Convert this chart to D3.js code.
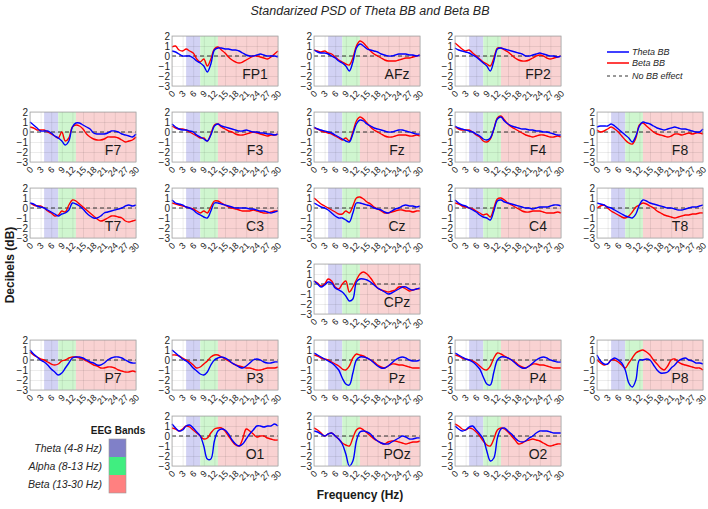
<!DOCTYPE html>
<html><head><meta charset="utf-8">
<script src="https://cdn.jsdelivr.net/npm/d3@7"></script>
<style>
body{margin:0;background:#fff}
svg{display:block}
text{font-family:"Liberation Sans",Arial,Helvetica,sans-serif}
</style>
</head><body>
<svg id="chart" width="708" height="509"></svg>
<script>
// ---------------- DATA ----------------
const freqs = d3.range(0, 31); // Hz, 0..30
const xTicks = [0,3,6,9,12,15,18,21,24,27,30];
const yTicks = [2,1,0,-1,-2,-3];
const bandNames = ["Theta (4-8 Hz)","Alpha (8-13 Hz)","Beta (13-30 Hz)"];
const bandFrom = [4, 8, 13];
const bandTo = [8, 13, 30];
const seriesNames = ["Theta BB","Beta BB","No BB effect"];

const FP1_theta=[0.5,0.4,0.2,0.0,0.0,0.0,-0.2,-0.5,-0.7,-1.0,-1.6,-0.8,0.6,0.8,0.8,0.7,0.7,0.6,0.6,0.5,0.3,0.1,0.0,0.0,0.1,0.2,0.1,0.0,0.0,0.0,-0.1];
const FP1_beta=[0.9,1.0,0.6,0.5,0.7,0.5,0.3,-0.3,-0.6,-0.3,-1.0,-0.3,0.7,0.9,0.6,0.3,-0.1,-0.4,-0.6,-0.7,-0.6,-0.4,-0.2,0.0,0.0,-0.1,-0.2,-0.3,-0.1,0.2,0.5];
const AFz_theta=[0.6,0.4,0.3,0.3,0.2,0.0,-0.2,-0.5,-0.7,-1.0,-1.5,-0.6,0.8,1.2,1.0,0.7,0.6,0.5,0.4,0.2,0.1,0.0,0.0,0.1,0.2,0.2,0.2,0.1,0.1,0.0,0.1];
const AFz_beta=[0.6,0.5,0.4,0.5,0.3,0.2,-0.1,-0.4,-0.6,-0.8,-0.9,-0.2,1.0,1.5,1.3,0.9,0.5,0.2,0.0,-0.2,-0.4,-0.5,-0.5,-0.5,-0.4,-0.3,-0.2,-0.2,-0.1,0.0,0.1];
const FP2_theta=[0.8,0.6,0.5,0.4,0.3,0.1,-0.1,-0.4,-0.7,-1.0,-1.5,-0.5,0.7,0.8,0.7,0.6,0.5,0.4,0.3,0.2,0.0,0.0,0.1,0.2,0.3,0.2,0.1,0.0,0.0,-0.1,0.0];
const FP2_beta=[1.3,1.0,0.7,0.5,0.6,0.3,0.0,-0.3,-0.6,-0.8,-1.0,-0.2,0.8,0.8,0.6,0.4,0.1,-0.2,-0.4,-0.5,-0.5,-0.4,-0.2,0.0,0.1,0.0,-0.2,-0.3,-0.2,-0.1,0.0];
const F7_theta=[1.0,0.7,0.4,0.1,0.1,0.1,-0.1,-0.4,-0.6,-0.9,-1.3,-0.9,0.5,0.9,0.9,0.7,0.5,0.3,-0.1,-0.2,-0.2,-0.2,-0.1,0.1,0.1,0.0,-0.2,-0.3,-0.4,-0.5,-0.2];
const F7_beta=[0.5,0.4,0.2,0.2,0.2,0.0,-0.2,-0.4,-0.6,0.0,-0.9,-0.6,0.5,0.7,0.6,0.3,-0.2,-0.5,-0.7,-0.8,-0.8,-0.7,-0.5,-0.5,-0.5,-0.6,-0.8,-1.0,-0.9,-0.8,-0.5];
const F3_theta=[0.8,0.5,0.3,0.2,0.2,0.1,0.0,-0.3,-0.5,-0.7,-0.9,-0.3,0.6,0.8,0.6,0.5,0.4,0.3,0.2,0.1,0.1,0.2,0.1,0.0,0.0,-0.1,-0.1,-0.2,-0.2,-0.3,-0.2];
const F3_beta=[0.6,0.4,0.3,0.3,0.2,0.0,-0.2,-0.4,-0.6,-0.6,-0.9,-0.2,0.7,0.8,0.5,0.3,0.1,0.0,-0.2,-0.3,-0.3,-0.2,-0.1,0.0,-0.1,-0.2,-0.3,-0.4,-0.3,-0.3,-0.2];
const Fz_theta=[0.5,0.3,0.2,0.1,0.0,-0.1,-0.3,-0.5,-0.7,-0.9,-1.0,-0.2,0.8,1.2,1.1,0.8,0.6,0.4,0.3,0.2,0.1,0.0,0.0,0.1,0.2,0.2,0.1,0.0,-0.1,-0.2,-0.2];
const Fz_beta=[0.4,0.3,0.1,0.0,-0.1,-0.2,-0.4,-0.6,-0.8,-0.6,-0.9,0.0,1.1,1.5,1.3,0.9,0.5,0.2,0.0,-0.2,-0.4,-0.5,-0.5,-0.4,-0.3,-0.3,-0.3,-0.4,-0.4,-0.3,-0.4];
const F4_theta=[0.6,0.4,0.3,0.2,0.1,0.0,-0.2,-0.4,-0.7,-0.8,-0.6,0.3,1.3,1.5,1.1,0.8,0.6,0.5,0.4,0.3,0.3,0.2,0.2,0.1,0.1,0.0,0.0,-0.1,-0.2,-0.3,-0.3];
const F4_beta=[0.5,0.3,0.2,0.2,0.2,0.0,-0.3,-0.5,-0.9,-1.0,-0.7,0.3,1.4,1.6,1.2,0.8,0.5,0.3,0.1,-0.1,-0.3,-0.4,-0.5,-0.4,-0.3,-0.3,-0.4,-0.5,-0.5,-0.4,-0.5];
const F8_theta=[0.5,0.6,0.6,0.6,0.8,0.6,0.3,0.0,-0.3,-0.6,-1.0,-0.4,0.6,1.0,0.9,0.8,0.6,0.4,0.3,0.2,0.3,0.4,0.5,0.4,0.3,0.3,0.2,0.1,0.0,0.0,0.3];
const F8_beta=[0.2,0.0,0.1,0.3,0.5,0.3,0.0,-0.4,-0.8,-1.1,-1.2,-0.6,0.7,0.9,0.6,0.3,0.0,-0.2,-0.3,-0.4,-0.5,-0.4,-0.2,-0.2,-0.3,-0.2,-0.1,-0.2,-0.1,-0.1,-0.2];
const T7_theta=[0.5,0.4,0.2,0.1,0.0,-0.2,-0.4,-0.6,-0.8,-0.6,-0.5,-0.2,0.5,0.4,0.2,-0.1,-0.5,-0.8,-1.0,-1.0,-0.8,-0.5,-0.4,-0.3,-0.2,-0.1,0.0,0.2,0.3,0.2,0.3];
const T7_beta=[0.5,0.3,0.2,0.2,0.0,-0.3,-0.5,-0.8,-0.7,-0.3,-0.4,0.3,0.8,0.7,0.4,0.1,-0.2,-0.5,-0.8,-1.1,-1.3,-1.2,-1.0,-0.8,-0.8,-0.9,-1.0,-1.3,-1.4,-1.3,-1.2];
const C3_theta=[0.8,0.5,0.4,0.3,0.1,0.0,-0.2,-0.5,-0.7,-0.9,-1.0,-0.3,0.5,0.5,0.4,0.3,0.2,0.1,0.0,0.0,0.0,0.0,-0.1,-0.1,-0.2,-0.3,-0.3,-0.4,-0.5,-0.4,-0.3];
const C3_beta=[0.5,0.4,0.3,0.2,0.1,0.0,-0.1,-0.3,-0.5,-0.3,-0.5,0.1,0.7,0.7,0.5,0.3,0.1,0.0,-0.1,-0.2,-0.3,-0.3,-0.3,-0.2,-0.3,-0.4,-0.5,-0.5,-0.4,-0.3,-0.3];
const Cz_theta=[0.5,0.3,0.1,0.0,-0.2,-0.5,-0.8,-1.0,-1.0,-1.2,-1.4,-0.5,0.5,0.5,0.4,0.3,0.2,0.0,-0.1,-0.2,-0.4,-0.5,-0.3,-0.1,0.0,0.2,0.3,0.2,0.2,0.1,0.2];
const Cz_beta=[1.0,0.7,0.4,0.2,0.0,-0.2,-0.4,-0.6,-0.6,-0.3,-0.5,0.2,1.0,1.1,0.9,0.6,0.4,0.1,-0.1,-0.3,-0.5,-0.5,-0.4,-0.3,-0.2,-0.2,-0.3,-0.3,-0.4,-0.3,-0.3];
const C4_theta=[0.8,0.5,0.3,0.2,0.0,-0.2,-0.4,-0.7,-0.9,-1.0,-1.2,-0.3,0.7,0.8,0.6,0.5,0.4,0.3,0.2,0.1,0.0,0.0,-0.1,0.0,0.1,0.1,0.1,0.2,0.3,0.3,0.2];
const C4_beta=[0.5,0.4,0.2,0.1,0.0,-0.1,-0.3,-0.5,-0.7,-0.6,-0.9,0.0,0.9,1.0,0.8,0.5,0.3,0.1,-0.1,-0.3,-0.4,-0.4,-0.3,-0.3,-0.3,-0.4,-0.5,-0.5,-0.5,-0.4,-0.5];
const T8_theta=[0.5,0.4,0.3,0.1,0.0,-0.2,-0.4,-0.6,-0.8,-0.9,-1.0,-0.6,0.3,0.8,0.7,0.5,0.4,0.3,0.2,0.1,0.0,0.0,-0.1,-0.2,-0.2,-0.1,0.0,0.1,0.1,0.2,0.3];
const T8_beta=[0.0,0.2,0.3,0.0,-0.3,-0.5,-0.7,-0.9,-1.0,-0.8,-0.4,0.1,0.3,0.5,0.4,0.2,0.0,-0.3,-0.5,-0.7,-0.8,-0.9,-1.0,-0.9,-0.8,-0.7,-0.7,-0.6,-0.6,-0.5,-0.5];
const CPz_theta=[0.3,0.0,-0.3,-0.1,0.2,0.1,-0.4,-0.6,-0.8,-1.2,-1.7,-1.5,0.2,0.5,0.5,0.4,0.2,-0.1,-0.4,-0.6,-0.8,-1.0,-0.9,-0.7,-0.5,-0.3,-0.3,-0.5,-0.6,-0.5,-0.4];
const CPz_beta=[0.3,0.1,-0.2,0.0,0.5,0.3,-0.3,-0.5,0.0,0.3,-0.8,-0.3,0.4,1.0,1.2,1.0,0.6,0.1,-0.4,-0.6,-0.7,-0.8,-0.7,-0.6,-0.3,-0.3,-0.5,-0.7,-0.6,-0.5,-0.5];
const P7_theta=[1.0,0.6,0.3,0.0,-0.2,-0.5,-0.9,-1.2,-1.5,-1.3,-0.8,-0.3,0.2,0.3,0.3,0.2,0.0,-0.2,-0.3,-0.5,-0.5,-0.3,0.0,0.2,0.3,0.3,0.2,0.0,-0.2,-0.3,-0.3];
const P7_beta=[0.8,0.5,0.3,0.1,0.0,-0.2,-0.4,-0.5,-0.4,-0.1,0.0,0.2,0.3,0.3,0.2,0.1,-0.1,-0.3,-0.5,-0.6,-0.8,-0.8,-0.7,-0.7,-0.8,-1.0,-1.1,-1.2,-1.2,-1.1,-1.2];
const P3_theta=[1.0,0.7,0.4,0.1,-0.1,-0.4,-0.8,-1.1,-1.4,-1.5,-1.2,-0.5,0.0,0.2,0.3,0.2,0.0,-0.3,-0.5,-0.7,-0.8,-0.6,-0.3,0.0,0.1,0.0,-0.2,-0.3,-0.3,-0.2,-0.2];
const P3_beta=[0.5,0.5,0.4,0.2,0.0,-0.2,-0.5,-0.8,-0.7,-0.4,-0.1,0.3,0.5,0.5,0.3,0.1,-0.1,-0.3,-0.5,-0.6,-0.7,-0.8,-0.8,-0.9,-1.0,-1.0,-0.9,-0.8,-0.8,-0.8,-0.7];
const Pz_theta=[0.7,0.5,0.3,0.1,-0.1,-0.3,-0.6,-1.0,-1.8,-2.4,-2.5,-1.3,0.0,0.3,0.3,0.2,0.0,-0.3,-0.6,-0.8,-0.8,-0.6,-0.3,0.0,0.2,0.3,0.2,0.0,-0.1,-0.1,0.0];
const Pz_beta=[0.5,0.4,0.2,0.1,0.0,-0.2,-0.4,-0.6,-0.9,-1.0,-0.6,0.2,0.6,0.5,0.4,0.2,0.0,-0.2,-0.5,-0.7,-0.8,-0.6,-0.4,-0.4,-0.5,-0.5,-0.6,-0.7,-0.8,-0.8,-0.8];
const P4_theta=[0.7,0.5,0.3,0.1,0.0,-0.2,-0.5,-0.9,-1.7,-2.4,-2.5,-1.2,0.0,0.3,0.3,0.2,0.0,-0.3,-0.6,-0.8,-0.8,-0.6,-0.3,0.0,0.2,0.3,0.2,0.0,-0.1,-0.2,-0.2];
const P4_beta=[0.5,0.4,0.2,0.1,0.0,-0.1,-0.3,-0.6,-0.9,-1.0,-0.6,0.2,0.7,0.6,0.4,0.2,0.0,-0.2,-0.5,-0.7,-0.8,-0.6,-0.4,-0.4,-0.5,-0.5,-0.6,-0.7,-0.8,-0.8,-0.8];
const P8_theta=[0.5,-0.1,-0.4,-0.4,0.0,0.2,0.0,-0.3,-1.0,-2.3,-2.7,-2.0,0.0,0.0,0.1,0.0,-0.5,-1.0,-1.3,-1.3,-1.2,-0.8,-0.5,-0.1,0.1,0.2,0.0,-0.1,-0.3,-0.3,-0.4];
const P8_beta=[0.0,-0.3,-0.5,-0.4,0.0,0.0,-0.2,-0.5,-0.8,-0.3,0.2,0.7,0.9,1.0,0.8,0.5,0.0,-0.4,-0.8,-1.0,-0.6,0.0,0.1,-0.2,-0.4,-0.5,-0.6,-0.7,-0.8,-0.8,-1.0];
const O1_theta=[1.2,0.8,0.5,0.6,1.0,1.1,0.8,0.4,0.0,-1.0,-2.3,-2.3,-0.5,0.5,0.7,0.6,0.2,-0.4,-0.8,-1.0,-0.8,-0.3,0.2,0.6,1.0,1.0,0.9,1.0,1.0,1.2,1.0];
const O1_beta=[0.8,0.7,0.5,0.7,1.0,0.9,0.6,0.3,0.0,-0.3,-0.2,0.3,0.7,0.8,0.8,0.5,0.0,-0.5,-0.9,-1.0,-0.3,0.7,0.5,0.2,-0.1,0.0,0.0,-0.2,-0.3,-0.4,-0.4];
const POz_theta=[0.5,0.4,0.2,0.0,0.2,0.3,0.0,-0.3,-0.8,-1.8,-3.0,-2.5,-0.5,0.4,0.5,0.4,0.2,-0.2,-0.5,-0.7,-0.8,-0.8,-0.6,-0.4,-0.2,0.0,-0.1,-0.3,-0.3,-0.2,-0.2];
const POz_beta=[0.8,0.6,0.3,0.0,0.2,0.3,0.0,-0.3,-0.7,-0.9,-1.0,-0.2,0.6,0.8,0.6,0.3,0.0,-0.3,-0.5,-0.7,-0.8,-0.6,-0.5,-0.5,-0.6,-0.7,-0.8,-0.7,-0.6,-0.6,-0.5];
const O2_theta=[1.0,0.7,0.5,0.6,0.9,1.0,0.6,0.2,-0.3,-1.5,-2.5,-2.2,-0.2,0.7,0.8,0.5,0.2,-0.2,-0.5,-0.6,-0.5,-0.2,0.0,0.3,0.5,0.5,0.5,0.4,0.3,0.3,0.3];
const O2_beta=[1.2,1.0,0.7,0.6,0.8,0.7,0.4,0.0,-0.5,-0.9,-1.0,-0.3,0.6,0.8,0.7,0.4,0.0,-0.4,-0.8,-0.7,-0.5,-0.4,-0.3,-0.4,-0.5,-0.7,-0.9,-1.0,-0.9,-0.8,-0.8];

const channels = ["FP1","AFz","FP2","F7","F3","Fz","F4","F8","T7","C3","Cz","C4","T8","CPz","P7","P3","Pz","P4","P8","O1","POz","O2"];
const thetaSeries = [FP1_theta,AFz_theta,FP2_theta,F7_theta,F3_theta,Fz_theta,F4_theta,F8_theta,T7_theta,C3_theta,Cz_theta,C4_theta,T8_theta,CPz_theta,P7_theta,P3_theta,Pz_theta,P4_theta,P8_theta,O1_theta,POz_theta,O2_theta];
const betaSeries = [FP1_beta,AFz_beta,FP2_beta,F7_beta,F3_beta,Fz_beta,F4_beta,F8_beta,T7_beta,C3_beta,Cz_beta,C4_beta,T8_beta,CPz_beta,P7_beta,P3_beta,Pz_beta,P4_beta,P8_beta,O1_beta,POz_beta,O2_beta];

// ---------------- LAYOUT ----------------
const cellRow = [0,0,0,1,1,1,1,1,2,2,2,2,2,3,4,4,4,4,4,5,5,5];
const cellCol = [1,2,3,0,1,2,3,4,0,1,2,3,4,2,0,1,2,3,4,1,2,3];
const colX = [30,172,314,455,597];
const rowY = [36,112,188,264,340,416];
const W = 106, H = 50;

const bandFill = ["#d2d2f4","#cff6cf","#f9d2d2"];
const bandSwatch = ["#8080c8","#40ee80","#ff8080"];
const colTheta = "#0000ff", colBeta = "#ff0000";
const FONT = '"Liberation Sans",Arial,Helvetica,sans-serif';

const svg = d3.select("#chart");
const x = d3.scaleLinear().domain([0,30]).range([0,W]);
const y = d3.scaleLinear().domain([-3,2]).range([H,0]);
const line = d3.line().x((d,i)=>x(freqs[i])).y(d=>y(d)).curve(d3.curveCatmullRom.alpha(0.5));

channels.forEach((name, k) => {
  const g = svg.append("g").attr("transform", `translate(${colX[cellCol[k]]},${rowY[cellRow[k]]})`);
  g.append("rect").attr("width", W).attr("height", H).attr("fill", "#fff");
  bandFrom.forEach((f, b) => {
    g.append("rect").attr("x", x(f)).attr("y", 0)
      .attr("width", x(bandTo[b]) - x(f)).attr("height", H).attr("fill", bandFill[b]);
  });
  const gx = g.append("g").attr("transform", `translate(0,${H})`)
    .call(d3.axisBottom(x).tickValues(xTicks).tickSize(-H).tickFormat(""));
  gx.select(".domain").remove();
  gx.selectAll("line").attr("stroke", "rgba(0,0,0,0.13)").attr("stroke-width", 0.6);
  const gy = g.append("g").call(d3.axisLeft(y).tickValues(yTicks).tickSize(-W).tickFormat(""));
  gy.select(".domain").remove();
  gy.selectAll("line").attr("stroke", "rgba(0,0,0,0.13)").attr("stroke-width", 0.6);

  g.append("line").attr("x1", 0).attr("x2", W).attr("y1", y(0)).attr("y2", y(0))
    .attr("stroke", "#333").attr("stroke-width", 1).attr("stroke-dasharray", "4,3");

  g.append("path").datum(betaSeries[k]).attr("d", line).attr("fill", "none")
    .attr("stroke", colBeta).attr("stroke-width", 1.4);
  g.append("path").datum(thetaSeries[k]).attr("d", line).attr("fill", "none")
    .attr("stroke", colTheta).attr("stroke-width", 1.4);

  g.append("rect").attr("width", W).attr("height", H).attr("fill", "none")
    .attr("stroke", "#aaaaaa").attr("stroke-width", 0.8);

  const ax = g.append("g").attr("transform", `translate(0,${H})`)
    .call(d3.axisBottom(x).tickValues(xTicks).tickSize(0).tickFormat(d3.format("d")));
  ax.select(".domain").remove();
  ax.selectAll("text").attr("x", 0).attr("y", 0).attr("dy", "0.35em")
    .attr("text-anchor", "end").attr("transform", "translate(1,6) rotate(-45)")
    .style("font-size", "9px").style("font-family", FONT).attr("fill", "#262626");
  const ay = g.append("g").call(d3.axisLeft(y).tickValues(yTicks).tickSize(0).tickPadding(2).tickFormat(d3.format("d")));
  ay.select(".domain").remove();
  ay.selectAll("text").style("font-size", "10px").style("font-family", FONT).attr("fill", "#262626");

  g.append("text").attr("x", x(23.5)).attr("y", y(-2.3)).attr("text-anchor", "middle")
    .style("font-size", "14px").attr("fill", "#1a1a1a").text(name);
});

svg.append("text").attr("x", 370).attr("y", 15).attr("text-anchor", "middle")
  .style("font-size", "12.5px").style("font-style", "italic").attr("fill", "#262626")
  .text("Standarized PSD of Theta BB and Beta BB");
svg.append("text").attr("transform", "translate(14,265) rotate(-90)").attr("text-anchor", "middle")
  .style("font-size", "12px").style("font-weight", "bold").attr("fill", "#1a1a1a").text("Decibels (dB)");
svg.append("text").attr("x", 360).attr("y", 499).attr("text-anchor", "middle")
  .style("font-size", "12px").style("font-weight", "bold").attr("fill", "#1a1a1a").text("Frequency (Hz)");

const leg = svg.append("g").attr("transform", "translate(607,52)");
const legColors = [colTheta, colBeta, "#333"];
const legDash = [null, null, "3,3"];
const legDy = [0, 11, 24];
seriesNames.forEach((s, i) => {
  leg.append("line").attr("x1", 0).attr("x2", 22).attr("y1", legDy[i]).attr("y2", legDy[i])
    .attr("stroke", legColors[i]).attr("stroke-width", i < 2 ? 1.5 : 1)
    .attr("stroke-dasharray", legDash[i]);
  leg.append("text").attr("x", 25).attr("y", legDy[i]).attr("dy", "0.35em")
    .style("font-size", "9px").style("font-style", "italic").attr("fill", "#262626").text(s);
});

const bl = svg.append("g").attr("transform", "translate(109,439)");
bl.append("text").attr("x", 9).attr("y", -5).attr("text-anchor", "middle")
  .style("font-size", "10px").style("font-weight", "bold").attr("fill", "#1a1a1a").text("EEG Bands");
bandNames.forEach((n, i) => {
  bl.append("rect").attr("x", 0).attr("y", i * 18).attr("width", 17).attr("height", 18)
    .attr("fill", bandSwatch[i]);
  bl.append("text").attr("x", -7).attr("y", i * 18 + 9).attr("dy", "0.35em").attr("text-anchor", "end")
    .style("font-size", "10.5px").style("font-style", "italic").attr("fill", "#262626").text(n);
});
bl.append("rect").attr("width", 17).attr("height", 54).attr("fill", "none").attr("stroke", "#999").attr("stroke-width", 0.6);
</script>
</body></html>
